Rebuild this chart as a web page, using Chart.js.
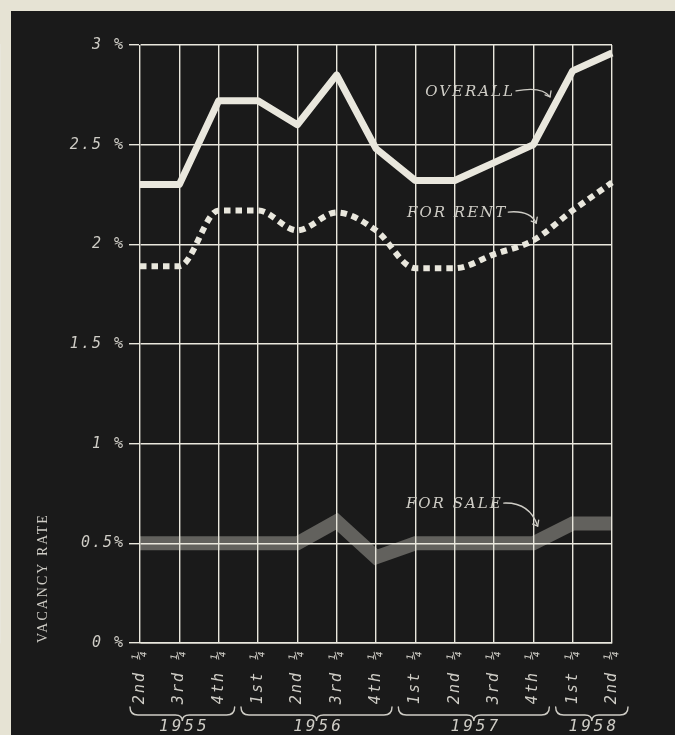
<!DOCTYPE html>
<html>
<head>
<meta charset="utf-8">
<script src="https://cdn.jsdelivr.net/npm/chart.js@4.4.1/dist/chart.umd.min.js"></script>
<style>
  html, body { margin: 0; padding: 0; background: #e6e3d4; overflow: hidden; }
  #wrap { position: absolute; left: 0; top: 0; width: 675px; height: 735px; }
</style>
</head>
<body>
<div id="wrap"><canvas id="vacancyChart"></canvas></div>
<script>
const quarters = ['2nd ¼', '3rd ¼', '4th ¼', '1st ¼', '2nd ¼', '3rd ¼', '4th ¼', '1st ¼', '2nd ¼', '3rd ¼', '4th ¼', '1st ¼', '2nd ¼'];
const years = ['1955', '1956', '1957', '1958'];
const yearSpans = [[0, 2], [3, 6], [7, 10], [11, 12]]; // first / last quarter of each year
const overall = [2.30, 2.30, 2.72, 2.72, 2.60, 2.85, 2.48, 2.32, 2.32, 2.41, 2.50, 2.87, 2.96];
const forRent = [1.89, 1.89, 2.17, 2.17, 2.07, 2.16, 2.07, 1.88, 1.88, 1.95, 2.02, 2.17, 2.31];
const forSale = [0.50, 0.50, 0.50, 0.50, 0.50, 0.61, 0.43, 0.50, 0.50, 0.50, 0.50, 0.60, 0.60];
const yTickLabels = ['0 %', '0.5%', '1 %', '1.5 %', '2 %', '2.5 %', '3 %'];
const seriesNames = ['OVERALL', 'FOR RENT', 'FOR SALE'];

const chalk = '#e9e7dd';
const chalkText = '#cfcdc6';
const mono = '"DejaVu Sans Mono", monospace';

// blackboard with a paper margin at top and left, plus wide lettering
const board = {
    id: 'board',
    beforeUpdate(chart) { chart.ctx.letterSpacing = '2px'; },
    beforeDraw(chart) {
        const { ctx, width, height } = chart;
        ctx.save();
        ctx.fillStyle = '#e6e3d4';
        ctx.fillRect(0, 0, width, height);
        ctx.fillStyle = '#1a1a1a';
        ctx.fillRect(11, 11, width - 11, height - 11);
        ctx.restore();
        ctx.letterSpacing = '2px';
    }
};

// series labels with arrows, year braces under the quarters
const boardNotes = {
    id: 'boardNotes',
    afterDraw(chart) {
        const { ctx, scales: { x, y } } = chart;
        ctx.save();
        ctx.strokeStyle = chalkText;
        ctx.fillStyle = chalkText;
        ctx.lineWidth = 1.3;
        ctx.lineCap = 'round';

        const notes = [
            { text: seriesNames[0], at: [7.25, 2.765], arrow: [[26, -3], [34, 5]] },
            { text: seriesNames[1], at: [6.79, 2.157], arrow: [[22, 0], [28, 10]] },
            { text: seriesNames[2], at: [6.76, 0.697], arrow: [[26, 1], [34, 22]] }
        ];
        ctx.font = 'italic 15px "DejaVu Serif", serif';
        ctx.letterSpacing = '2px';
        ctx.textBaseline = 'middle';
        ctx.textAlign = 'left';
        notes.forEach(n => {
            const px = x.getPixelForValue(n.at[0]);
            const py = y.getPixelForValue(n.at[1]);
            ctx.fillText(n.text, px, py);
            const sx = px + ctx.measureText(n.text).width + 1;
            const [c, e] = n.arrow;
            ctx.beginPath();
            ctx.moveTo(sx, py - 1);
            ctx.quadraticCurveTo(sx + c[0], py + c[1] - 3, sx + e[0], py + e[1]);
            ctx.stroke();
            // arrow head
            ctx.beginPath();
            ctx.moveTo(sx + e[0] - 5, py + e[1] - 2);
            ctx.lineTo(sx + e[0], py + e[1]);
            ctx.lineTo(sx + e[0] + 1, py + e[1] - 6);
            ctx.stroke();
        });

        // braces and years
        const top = chart.height - 25;
        ctx.lineWidth = 1.4;
        ctx.font = 'italic 16px ' + mono;
        ctx.letterSpacing = '3px';
        ctx.textAlign = 'center';
        yearSpans.forEach((span, i) => {
            const x0 = x.getPixelForValue(span[0]) - (i === 0 ? 10 : 17);
            const x1 = x.getPixelForValue(span[1]) + 16;
            const mid = (x0 + x1) / 2;
            ctx.beginPath();
            ctx.moveTo(x0, top - 3);
            ctx.quadraticCurveTo(x0, top + 5, x0 + 8, top + 5);
            ctx.lineTo(mid - 7, top + 5);
            ctx.quadraticCurveTo(mid, top + 5, mid, top + 11);
            ctx.quadraticCurveTo(mid, top + 5, mid + 7, top + 5);
            ctx.lineTo(x1 - 8, top + 5);
            ctx.quadraticCurveTo(x1, top + 5, x1, top - 3);
            ctx.stroke();
            ctx.fillText(years[i], mid + 2, top + 17);
        });
        ctx.restore();
    }
};

const ctx = document.getElementById('vacancyChart').getContext('2d');
new Chart(ctx, {
    type: 'line',
    data: {
        labels: quarters,
        datasets: [
            {
                label: seriesNames[2],
                data: forSale,
                borderColor: '#62615d',
                borderWidth: 14,
                borderCapStyle: 'butt',
                borderJoinStyle: 'miter',
                pointRadius: 0,
                tension: 0
            },
            {
                label: seriesNames[1],
                data: forRent,
                borderColor: chalk,
                borderWidth: 6,
                borderDash: [6.5, 5],
                borderCapStyle: 'butt',
                pointRadius: 0,
                cubicInterpolationMode: 'monotone'
            },
            {
                label: seriesNames[0],
                data: overall,
                borderColor: chalk,
                borderWidth: 7,
                borderCapStyle: 'butt',
                borderJoinStyle: 'round',
                pointRadius: 0,
                tension: 0
            }
        ]
    },
    options: {
        responsive: true,
        maintainAspectRatio: false,
        animation: false,
        layout: { padding: { left: 29, right: 63, top: 45, bottom: 0 } },
        plugins: {
            legend: { display: false },
            tooltip: { enabled: false }
        },
        scales: {
            x: {
                offset: false,
                afterFit: (scale) => { scale.height = 92; },
                grid: { color: chalk, lineWidth: 1.4, drawTicks: false, z: 1 },
                border: { color: chalk, width: 1.6, z: 1 },
                ticks: {
                    color: chalkText,
                    font: { family: mono, size: 15, style: 'italic' },
                    padding: 6,
                    minRotation: 90,
                    maxRotation: 90,
                    autoSkip: false
                }
            },
            y: {
                min: 0,
                max: 3,
                afterFit: (scale) => { scale.width = 111; },
                grid: { color: chalk, lineWidth: 1.4, tickLength: 11, z: 1 },
                border: { color: chalk, width: 1.6 },
                ticks: {
                    stepSize: 0.5,
                    color: chalkText,
                    font: { family: mono, size: 15, style: 'italic' },
                    padding: 4,
                    callback: (v) => yTickLabels[Math.round(v * 2)]
                },
                title: {
                    display: true,
                    text: 'VACANCY RATE',
                    align: 'start',
                    color: chalkText,
                    font: { family: '"Liberation Serif", serif', size: 14 },
                    padding: { top: 6, bottom: 0 }
                }
            }
        }
    },
    plugins: [board, boardNotes]
});
</script>
</body>
</html>
